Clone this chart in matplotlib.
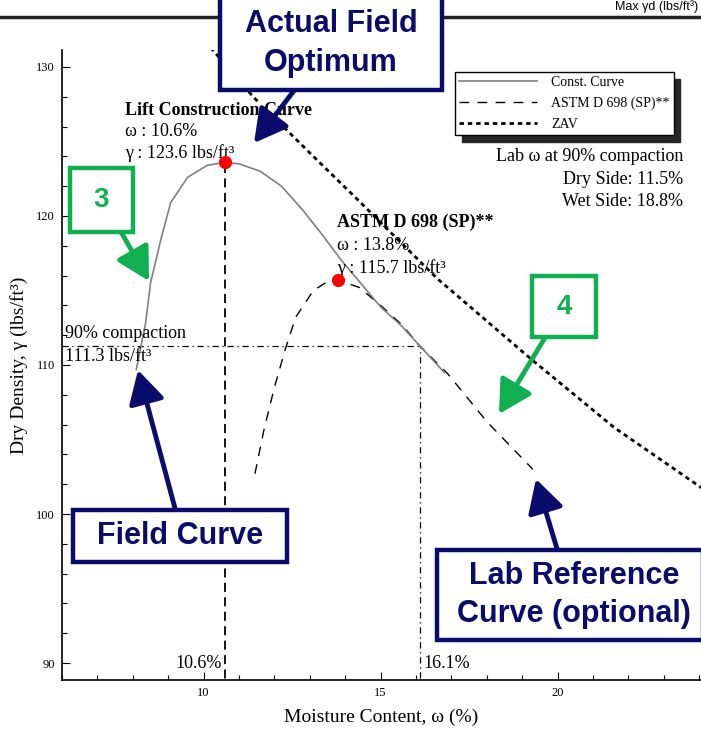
import matplotlib
matplotlib.use("Agg")
import matplotlib.pyplot as plt
from matplotlib.patches import Rectangle, FancyArrowPatch
from matplotlib.lines import Line2D
from matplotlib.ticker import MultipleLocator

# field (lift construction) curve
field_w = [8.1, 8.36, 8.5, 8.79, 9.07, 9.55, 10.1, 10.6, 11.0, 11.6, 12.2, 12.8,
           13.3, 13.9, 14.4, 15.0, 15.6, 16.1, 16.8]
field_g = [109.7, 112.8, 115.5, 118.4, 120.9, 122.6, 123.4, 123.6, 123.5, 123.0, 122.0, 120.4,
           118.9, 117.0, 115.6, 113.9, 112.6, 111.3, 109.5]

# lab reference curve, ASTM D 698
lab_w = [11.45, 11.7, 12.0, 12.3, 12.6, 13.1, 13.5, 13.8, 14.4, 15.0, 15.6, 16.1, 16.9, 18.0, 19.3]
lab_g = [102.7, 105.6, 108.5, 111.0, 113.2, 115.0, 115.6, 115.7, 115.2, 114.0, 112.7, 111.3,
         109.4, 106.2, 103.0]

# zero air voids line
zav_w = [10.2, 11.4, 13.1, 14.35, 16.6, 19.3, 21.6, 24.1]
zav_g = [131.3, 128.0, 124.0, 121.1, 115.8, 110.3, 105.8, 101.7]

# optimum points
opt_w = [10.6, 13.8]
opt_g = [123.6, 115.7]

# 90% compaction
comp_g = 111.3
comp_w = 16.1

W, H = 701, 731
NAVY = "#0b0b6b"
GREEN = "#10b050"

plt.rcParams["font.family"] = ["Liberation Serif", "DejaVu Serif"]

fig = plt.figure(figsize=(W / 100, H / 100), dpi=100)
ax = fig.add_axes([62 / W, 1 - 680 / H, (W - 62) / W, 630 / H])


def fp(x, y):
    # top-left pixel position -> figure fraction
    return (x / W, 1 - y / H)


# curves
ax.plot(zav_w, zav_g, color="black", lw=2.0, linestyle=(0, (1.6, 1.4)), label="ZAV", zorder=2)
ax.plot(lab_w, lab_g, color="black", lw=1.0, linestyle=(0, (7, 6)), label="ASTM D 698 (SP)**", zorder=2)
ax.plot(field_w, field_g, color="#808080", lw=1.2, label="Const. Curve", zorder=3)

# guide lines
ax.plot([opt_w[0], opt_w[0]], [88, opt_g[0]], color="black", lw=1.3, linestyle=(0, (5, 3)), zorder=1)
ax.plot([6, comp_w], [comp_g, comp_g], color="black", lw=0.9, linestyle=(0, (5, 3, 1, 3)), zorder=1)
ax.plot([comp_w, comp_w], [88, comp_g], color="black", lw=0.9, linestyle=(0, (5, 3, 1, 3)), zorder=1)

ax.plot(opt_w, opt_g, "o", color="red", ms=8.5, zorder=5)

ax.set_xlim(6, 24.05)
ax.set_ylim(88.86, 131.14)
ax.set_xticks([10, 15, 20])
ax.set_yticks([90, 100, 110, 120, 130])
ax.xaxis.set_minor_locator(MultipleLocator(1))
ax.yaxis.set_minor_locator(MultipleLocator(2))
ax.tick_params(which="both", direction="in", width=0.8, labelsize=9)
ax.tick_params(which="major", length=6)
ax.tick_params(which="minor", length=3.5)
ax.tick_params(axis="x", pad=5)
ax.tick_params(axis="y", pad=5)
for s in ["top", "right"]:
    ax.spines[s].set_visible(False)
for s in ["left", "bottom"]:
    ax.spines[s].set_linewidth(1.2)
ax.set_xlabel("Moisture Content, ω (%)", fontsize=14, labelpad=7)
ax.set_ylabel("Dry Density, γ (lbs/ft³)", fontsize=14, labelpad=6)

# legend
handles, labels = ax.get_legend_handles_labels()
order = [2, 1, 0]
leg = ax.legend([handles[i] for i in order], [labels[i] for i in order],
                loc="upper left", bbox_to_anchor=fp(455, 72), bbox_transform=fig.transFigure,
                fontsize=10, frameon=True, fancybox=False, edgecolor="black",
                handlelength=5.6, borderpad=0.3, labelspacing=0.55, handletextpad=1.0,
                borderaxespad=0, shadow={"ox": 5, "oy": -5, "color": "0.15", "alpha": 1})
leg.get_frame().set_linewidth(1.0)

# text labels
ts = 13
ax.text(7.78, 127.1, "Lift Construction Curve", fontsize=ts, fontweight="bold", va="center",
        bbox=dict(facecolor="white", edgecolor="none", pad=0), zorder=4)
ax.text(7.78, 125.64, "ω : 10.6%", fontsize=ts, va="center")
ax.text(7.78, 124.23, "γ : 123.6 lbs/ft³", fontsize=ts, va="center")
ax.text(13.77, 119.6, "ASTM D 698 (SP)**", fontsize=ts, fontweight="bold", va="center")
ax.text(13.77, 118.05, "ω : 13.8%", fontsize=ts, va="center")
ax.text(13.77, 116.5, "γ : 115.7 lbs/ft³", fontsize=ts, va="center")
ax.text(6.08, 112.1, "90% compaction", fontsize=ts, va="center")
ax.text(6.08, 110.6, "111.3 lbs/ft³", fontsize=ts, va="center")
ax.text(23.54, 123.96, "Lab ω at 90% compaction", fontsize=ts, va="center", ha="right")
ax.text(23.54, 122.42, "Dry Side: 11.5%", fontsize=ts, va="center", ha="right")
ax.text(23.54, 121.0, "Wet Side: 18.8%", fontsize=ts, va="center", ha="right")
ax.text(10.5, 90.0, "10.6%", fontsize=ts, va="center", ha="right")
ax.text(16.2, 90.0, "16.1%", fontsize=ts, va="center", ha="left")

# page rule and header
fig.add_artist(Line2D([0, 1], [fp(0, 17)[1]] * 2, color="#222222", lw=2.5))
fig.text(*fp(698, 10), "Max γd (lbs/ft³)", ha="right", va="baseline", fontsize=9,
         family=["Liberation Sans", "DejaVu Sans"])


# callout boxes
def callout(x0, y0, x1, y1, lines, color, size, arrow_from, arrow_to):
    a = FancyArrowPatch(fp(*arrow_from), fp(*arrow_to), transform=fig.transFigure,
                        arrowstyle="-|>,head_length=1.0,head_width=0.55", mutation_scale=20,
                        color=color, lw=3.5, zorder=8, shrinkA=0, shrinkB=0)
    fig.add_artist(a)
    (fx0, fy1), (fx1, fy0) = fp(x0, y0), fp(x1, y1)
    fig.add_artist(Rectangle((fx0, fy0), fx1 - fx0, fy1 - fy0, transform=fig.transFigure,
                             facecolor="white", edgecolor=color, lw=3.2, zorder=9))
    for (tx, ty), t in lines:
        fig.text(*fp(tx, ty), t, ha="center", va="center", fontsize=size, fontweight="bold",
                 color=color, family=["Liberation Sans", "DejaVu Sans"], zorder=10)


callout(220, -3, 442, 90, [((331, 24), "Actual Field"), ((331, 63), "Optimum")],
        NAVY, 22, (296, 88), (254, 143))
callout(73, 510, 287, 562, [((180, 536), "Field Curve")], NAVY, 22, (176, 512), (138, 370))
callout(437, 550, 703, 640, [((574, 576), "Lab Reference"), ((574, 614), "Curve (optional)")],
        NAVY, 22, (558, 552), (536, 479))
callout(70, 168, 133, 232, [((101, 200), "3")], GREEN, 20, (120, 230), (149, 281))
callout(532, 276, 596, 337, [((564, 307), "4")], GREEN, 20, (546, 336), (499, 414))

fig.savefig("out.png", dpi=100)
